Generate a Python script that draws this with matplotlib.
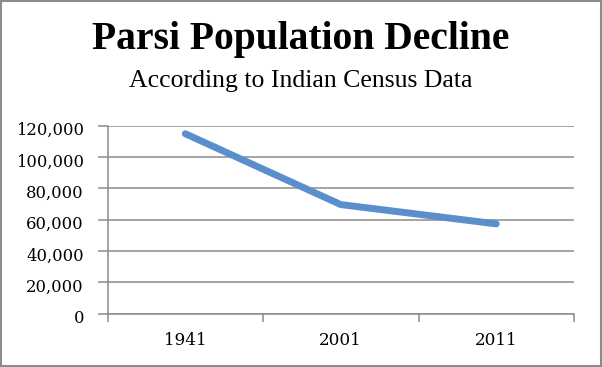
import numpy as np
import matplotlib.pyplot as plt
from matplotlib.ticker import FuncFormatter
from matplotlib.patches import Rectangle
from matplotlib.transforms import ScaledTranslation

plt.rcParams['font.family'] = ['DejaVu Serif']

years = ['1941', '2001', '2011']
population = [114890, 69601, 57264]
yticks = [0, 20000, 40000, 60000, 80000, 100000, 120000]

W, H = 602, 367
fig = plt.figure(figsize=(W/100, H/100), dpi=100)
ax = fig.add_axes([107.5/W, 1-313.5/H, (574-107.5)/W, (313.5-125.7)/H])

x = np.arange(len(years))
ax.plot(x, population, color='#5b8fcb', lw=5, solid_capstyle='round',
        solid_joinstyle='round', zorder=3)

ax.set_xlim(-0.5, len(years)-0.5)
ax.set_ylim(0, 120000)
ax.set_yticks(yticks)
ax.yaxis.set_major_formatter(FuncFormatter(lambda v, p: f'{int(v):,}'))
ax.grid(axis='y', color='#8c8c8c', lw=1.1)
ax.set_axisbelow(True)

# category ticks between groups, labels centred
ax.set_xticks(np.arange(len(years)+1)-0.5)
ax.set_xticklabels([])
ax.set_xticks(x, minor=True)
ax.set_xticklabels(years, minor=True, fontsize=12.2)
ax.tick_params(axis='x', which='major', length=6, color='#8c8c8c', width=1.1)
ax.tick_params(axis='x', which='minor', length=0, pad=13)
ax.tick_params(axis='y', length=7, color='#8c8c8c', width=1.1, labelsize=11.8, pad=10)
for lab in ax.get_yticklabels():
    lab.set_transform(lab.get_transform() + ScaledTranslation(0, -0.03, fig.dpi_scale_trans))

for s in ['top', 'right']:
    ax.spines[s].set_visible(False)
for s in ['left', 'bottom']:
    ax.spines[s].set_color('#8c8c8c')
    ax.spines[s].set_linewidth(1.1)

fig.text(0.5, 1-49.5/H, 'Parsi Population Decline', ha='center', va='baseline',
         fontsize=28.5, fontweight='bold', family='Liberation Serif')
fig.text(0.5, 1-87/H, 'According to Indian Census Data', ha='center', va='baseline',
         fontsize=18.5, family='Liberation Serif')

fig.patches.append(Rectangle((1/W, 1/H), 1-2/W, 1-2/H, transform=fig.transFigure,
                             fill=False, edgecolor='#8c8c8c', lw=1.5))

fig.savefig('out.png', dpi=100)
